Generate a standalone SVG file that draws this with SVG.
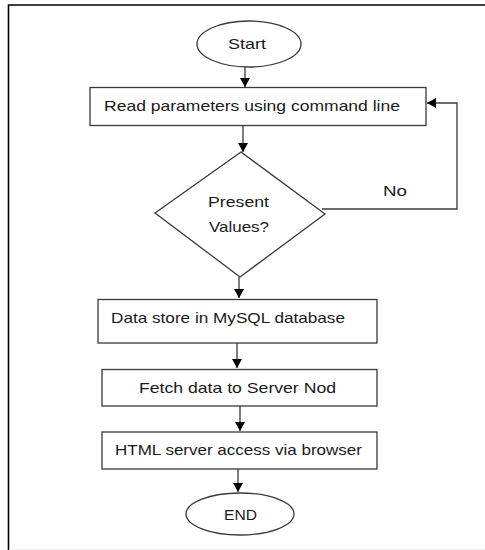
<svg xmlns="http://www.w3.org/2000/svg" width="485" height="550" viewBox="0 0 485 550">
<style>
.shape{fill:#ffffff;stroke:#3a3a3a;stroke-width:1.3}
.lbl{font-family:"Liberation Sans",Arial,sans-serif;font-size:15px;fill:#1a1a1a}
.mid{text-anchor:middle}
.conn{fill:none;stroke:#3a3a3a;stroke-width:1.3}
.frame{fill:none;stroke:#000000;stroke-width:1.6}
</style>
<defs>
<marker id="ah" markerWidth="10" markerHeight="10" refX="9" refY="5" orient="auto" markerUnits="userSpaceOnUse">
<path d="M0,0 L9,5 L0,10 Z" fill="#000000"/>
</marker>
</defs>
<rect x="0" y="0" width="485" height="550" fill="#ffffff"/>
<g id="frame">
<path class="frame" d="M8.5,550 V5 H485"/>
<line x1="9" y1="549.5" x2="485" y2="549.5" stroke="#eeeeee" stroke-width="1"/>
</g>
<g id="connectors">
<line class="conn" x1="245" y1="67" x2="245" y2="87" marker-end="url(#ah)"/>
<line class="conn" x1="243" y1="126" x2="243" y2="152" marker-end="url(#ah)"/>
<path class="conn" d="M322,209 H457 V103 H427" marker-end="url(#ah)"/>
<line class="conn" x1="239" y1="277" x2="239" y2="298" marker-end="url(#ah)"/>
<line class="conn" x1="237" y1="343" x2="237" y2="368" marker-end="url(#ah)"/>
<line class="conn" x1="240" y1="406" x2="240" y2="431" marker-end="url(#ah)"/>
<line class="conn" x1="238" y1="469" x2="238" y2="492" marker-end="url(#ah)"/>
<text class="lbl" x="383" y="196" textLength="24" lengthAdjust="spacingAndGlyphs">No</text>
</g>
<g id="start">
<ellipse class="shape" cx="249" cy="44" rx="52" ry="23"/>
<text class="lbl" x="228" y="49" textLength="38" lengthAdjust="spacingAndGlyphs">Start</text>
</g>
<g id="read">
<rect class="shape" x="90" y="87.5" width="336" height="38"/>
<text class="lbl" x="104" y="111" textLength="296" lengthAdjust="spacingAndGlyphs">Read parameters using command line</text>
</g>
<g id="decision">
<polygon class="shape" points="241,152 325,214 240,277 155,213"/>
<text class="lbl" x="208" y="207" textLength="61" lengthAdjust="spacingAndGlyphs">Present</text>
<text class="lbl" x="209" y="232" textLength="60" lengthAdjust="spacingAndGlyphs">Values?</text>
</g>
<g id="store">
<rect class="shape" x="98" y="299.5" width="279" height="43.5"/>
<text class="lbl" x="111" y="323" textLength="234" lengthAdjust="spacingAndGlyphs">Data store in MySQL database</text>
</g>
<g id="fetch">
<rect class="shape" x="102" y="369.5" width="275" height="36.5"/>
<text class="lbl" x="139" y="393" textLength="197" lengthAdjust="spacingAndGlyphs">Fetch data to Server Nod</text>
</g>
<g id="html">
<rect class="shape" x="102" y="432" width="275" height="37"/>
<text class="lbl" x="115" y="455" textLength="247" lengthAdjust="spacingAndGlyphs">HTML server access via browser</text>
</g>
<g id="end">
<ellipse class="shape" cx="240" cy="514" rx="54" ry="21"/>
<text class="lbl" x="224" y="520" textLength="33" lengthAdjust="spacingAndGlyphs">END</text>
</g>
</svg>
